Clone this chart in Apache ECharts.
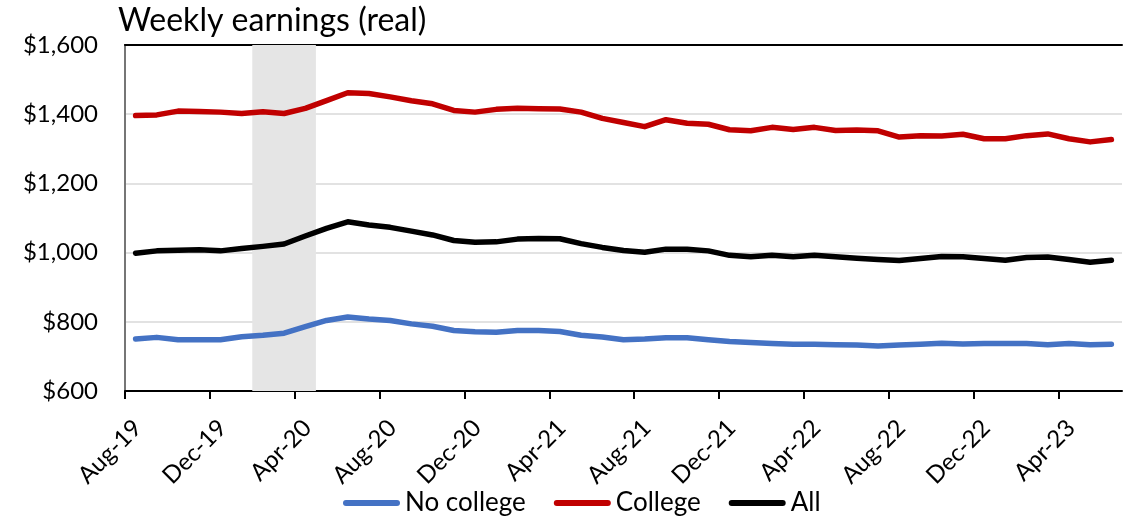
<!DOCTYPE html>
<html>
<head>
<meta charset="utf-8">
<script src="https://cdn.jsdelivr.net/npm/echarts@6/dist/echarts.min.js"></script>
<style>
  html, body { margin: 0; padding: 0; background: #ffffff; }
  #chart { width: 1137px; height: 516px; }
</style>
</head>
<body>
<div id="chart"></div>
<script>
// Months, Aug-19 .. Jun-23
const months = ['Aug-19','Sep-19','Oct-19','Nov-19','Dec-19','Jan-20','Feb-20','Mar-20','Apr-20','May-20','Jun-20','Jul-20',
  'Aug-20','Sep-20','Oct-20','Nov-20','Dec-20','Jan-21','Feb-21','Mar-21','Apr-21','May-21','Jun-21','Jul-21',
  'Aug-21','Sep-21','Oct-21','Nov-21','Dec-21','Jan-22','Feb-22','Mar-22','Apr-22','May-22','Jun-22','Jul-22',
  'Aug-22','Sep-22','Oct-22','Nov-22','Dec-22','Jan-23','Feb-23','Mar-23','Apr-23','May-23','Jun-23'];

const noCollege = [750,755,748,748,748,757,761,767,786,804,814,808,804,794,787,775,771,770,775,775,772,761,756,748,
  750,754,754,748,743,740,737,735,735,734,733,730,733,735,738,736,737,737,737,734,737,734,735];
const college = [1396,1398,1409,1408,1406,1402,1407,1402,1417,1439,1462,1460,1450,1439,1430,1411,1406,1414,1417,1416,1415,1406,1388,1376,
  1364,1384,1374,1371,1355,1352,1362,1356,1362,1353,1354,1352,1334,1338,1337,1342,1329,1329,1338,1343,1329,1320,1327];
const all = [998,1005,1007,1008,1005,1012,1018,1025,1048,1070,1089,1080,1073,1062,1051,1035,1030,1031,1039,1041,1040,1026,1015,1006,
  1001,1010,1010,1005,992,988,992,988,992,988,984,980,977,983,989,988,983,978,986,987,980,972,978];

const labelMonths = ['Aug-19','Dec-19','Apr-20','Aug-20','Dec-20','Apr-21','Aug-21','Dec-21','Apr-22','Aug-22','Dec-22','Apr-23'];
const yTicks = [600, 800, 1000, 1200, 1400, 1600];
const recession = ['Feb-20', 'Apr-20'];

const FONT = 'Lato';
const tickVals = labelMonths.map(m => months.indexOf(m));
const labelVals = tickVals.map(v => v + 0.6);
const toPts = arr => arr.map((v, i) => [i + 0.5, v]);
const recStart = months.indexOf(recession[0]);
const recEnd = months.indexOf(recession[1]) + 1;

const chart = echarts.init(document.getElementById('chart'), null, { renderer: 'canvas' });

const lineSeries = (name, data, color) => ({
  name: name,
  type: 'line',
  data: toPts(data),
  showSymbol: false,
  symbol: 'none',
  smooth: false,
  lineStyle: { color: color, width: 5.5, cap: 'round', join: 'round' },
  itemStyle: { color: color },
  emphasis: { disabled: true },
  z: 3
});

const s1 = lineSeries('No college', noCollege, '#4472C4');
s1.markArea = {
  silent: true,
  itemStyle: { color: '#e5e5e5' },
  data: [[{ xAxis: recStart }, { xAxis: recEnd }]]
};

chart.setOption({
  animation: false,
  backgroundColor: '#ffffff',
  textStyle: { fontFamily: FONT },
  title: {
    text: 'Weekly earnings (real)',
    left: 113,
    top: 0,
    textStyle: { fontFamily: FONT, fontSize: 32, fontWeight: 'normal', color: '#000' }
  },
  legend: {
    data: ['No college', 'College', 'All'],
    left: 338,
    top: 485,
    itemWidth: 57,
    itemHeight: 6,
    itemGap: 28,
    icon: 'path://M3,0 L54,0 A3,3 0 0 1 54,6 L3,6 A3,3 0 0 1 3,0 Z',
    textStyle: { fontFamily: FONT, fontSize: 26, color: '#000' }
  },
  grid: { left: 125, right: 15, top: 45, bottom: 125, containLabel: false },
  xAxis: [{
    type: 'value',
    min: 0,
    max: months.length,
    axisLine: { show: true, lineStyle: { color: '#000', width: 2 } },
    axisTick: { show: true, customValues: tickVals, length: 8, lineStyle: { color: '#000', width: 2 } },
    axisLabel: {
      show: true,
      customValues: labelVals,
      rotate: 45,
      margin: 33,
      fontFamily: FONT,
      fontSize: 24,
      color: '#000',
      formatter: v => months[Math.floor(v)] || ''
    },
    splitLine: { show: false }
  }, {
    type: 'value',
    position: 'top',
    min: 0,
    max: months.length,
    axisLine: { show: true, lineStyle: { color: '#000', width: 2 } },
    axisTick: { show: false },
    axisLabel: { show: false },
    splitLine: { show: false }
  }],
  yAxis: [{
    type: 'value',
    min: yTicks[0],
    max: yTicks[yTicks.length - 1],
    interval: 200,
    axisLine: { show: true, lineStyle: { color: '#000', width: 2 } },
    axisTick: { show: false },
    axisLabel: {
      margin: 27,
      fontFamily: FONT,
      fontSize: 24,
      color: '#000',
      formatter: v => '$' + v.toLocaleString('en-US')
    },
    splitLine: { show: true, lineStyle: { color: '#d9d9d9', width: 1.5 } }
  }, {
    type: 'value',
    position: 'right',
    min: yTicks[0],
    max: yTicks[yTicks.length - 1],
    interval: 200,
    axisLine: { show: true, lineStyle: { color: '#767676', width: 2 } },
    axisTick: { show: false },
    axisLabel: { show: false },
    splitLine: { show: false }
  }],
  series: [
    s1,
    lineSeries('College', college, '#C00000'),
    lineSeries('All', all, '#000000')
  ]
});
</script>
</body>
</html>
